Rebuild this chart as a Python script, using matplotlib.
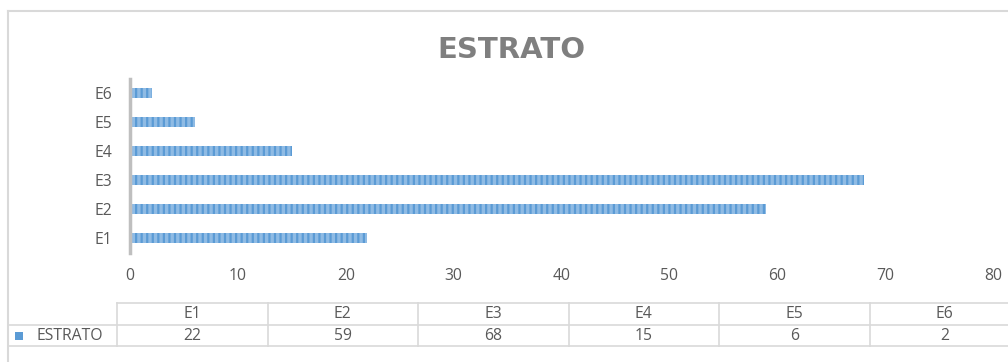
import matplotlib
matplotlib.use("Agg")
import matplotlib.pyplot as plt
from matplotlib.lines import Line2D
from matplotlib.patches import Rectangle

# Data
categories = ["E1", "E2", "E3", "E4", "E5", "E6"]
values = [22, 59, 68, 15, 6, 2]
series_name = "ESTRATO"
title = "ESTRATO"
x_ticks = [0, 10, 20, 30, 40, 50, 60, 70, 80]

W, H = 1008, 362
plt.rcParams['font.family'] = ['Open Sans', 'DejaVu Sans']
plt.rcParams['hatch.linewidth'] = 1.6

fig = plt.figure(figsize=(W / 100, H / 100), dpi=100)
fig.patch.set_facecolor("white")

def fx(px):
    return px / W

def fy(py):
    return 1 - py / H

grid_col = "#d9d9d9"
text_col = "#595959"
bar_col = "#5b9bd5"
fs = 11.3

# Outer chart frame (top and left edges)
fig.add_artist(Line2D([fx(8), fx(W)], [fy(11), fy(11)], color=grid_col, lw=1.5))
fig.add_artist(Line2D([fx(8), fx(8)], [fy(11), fy(H)], color=grid_col, lw=1.5))

# Plot area
ax_left, ax_right = 130, 993
ax_top, ax_bottom = 78.5, 252.5
ax = fig.add_axes([fx(ax_left), fy(ax_bottom), fx(ax_right - ax_left), (ax_bottom - ax_top) / H])
ypos = list(range(len(categories)))
ax.barh(ypos, values, height=0.32, color="#8fbbe4", edgecolor=bar_col,
        hatch="|||", linewidth=0)
ax.set_xlim(0, 80)
ax.set_ylim(-0.5, len(categories) - 0.5)
ax.set_yticks(ypos)
ax.set_yticklabels(categories, fontsize=fs, color=text_col)
ax.set_xticks(x_ticks)
ax.set_xticklabels([str(t) for t in x_ticks], fontsize=fs, color=text_col)
ax.tick_params(axis="both", length=0)
ax.tick_params(axis="y", pad=13)
ax.tick_params(axis="x", pad=11)
for s in ["top", "right", "bottom"]:
    ax.spines[s].set_visible(False)
ax.spines["left"].set_color("#bfbfbf")
ax.spines["left"].set_linewidth(2.5)
ax.set_facecolor("none")

# Title
fig.text(fx(511), fy(50), title, ha="center", va="center", fontsize=21,
         fontweight="bold", color="#7f7f7f", family="DejaVu Sans")

# Data table
col_x0 = 117
col_w = 150.5
row_y = [303, 325, 346]
n = len(categories)
right_edge = col_x0 + col_w * n
fig.add_artist(Line2D([fx(col_x0), fx(right_edge)], [fy(row_y[0])] * 2, color=grid_col, lw=1.2))
for yy in row_y[1:]:
    fig.add_artist(Line2D([fx(8), fx(right_edge)], [fy(yy)] * 2, color=grid_col, lw=1.2))
for i in range(n + 1):
    xx = col_x0 + col_w * i
    fig.add_artist(Line2D([fx(xx)] * 2, [fy(row_y[0]), fy(row_y[2])], color=grid_col, lw=1.2))
for i, (c, v) in enumerate(zip(categories, values)):
    cx = col_x0 + col_w * (i + 0.5)
    fig.text(fx(cx), fy((row_y[0] + row_y[1]) / 2), c, ha="center", va="center",
             fontsize=fs, color=text_col)
    fig.text(fx(cx), fy((row_y[1] + row_y[2]) / 2), str(v), ha="center", va="center",
             fontsize=fs, color=text_col)

# Legend key in the table
fig.add_artist(Rectangle((fx(15), fy(340)), fx(8), 8 / H, facecolor=bar_col,
                         edgecolor="none"))
fig.text(fx(36), fy((row_y[1] + row_y[2]) / 2), series_name, ha="left", va="center",
         fontsize=fs, color=text_col)

fig.savefig("out.png", dpi=100, facecolor="white")
